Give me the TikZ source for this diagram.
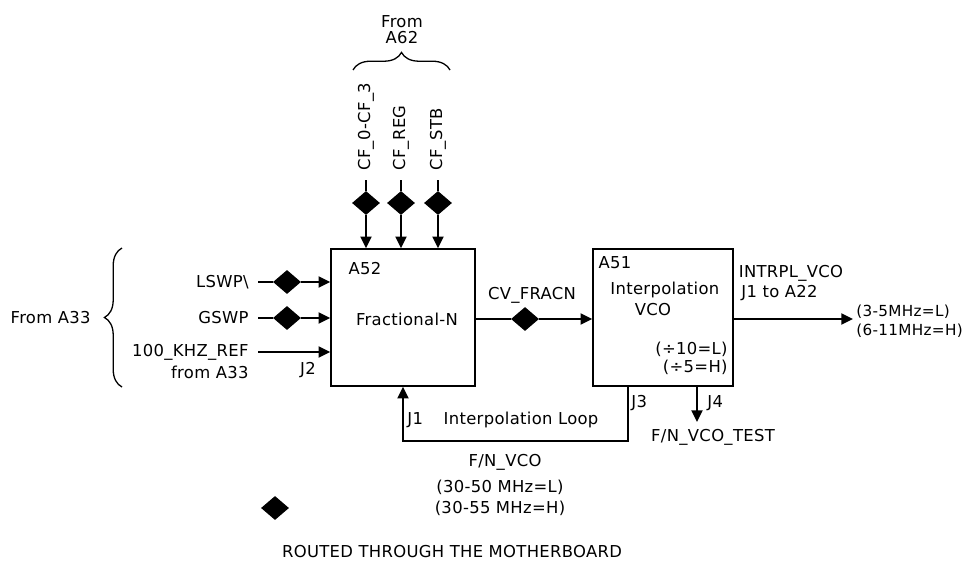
\documentclass[tikz,border=0pt]{standalone}
\usepackage{fontspec}
\setmainfont[LetterSpace=2]{DejaVu Sans}
\usetikzlibrary{arrows.meta,shapes.geometric,decorations.pathreplacing,positioning}

\tikzset{
  sig/.style={line width=1.5pt, -{Triangle[length=10pt,width=9.5pt]}},
  blk/.style={draw, line width=1.3pt, minimum height=4.11cm},
  bus/.style={diamond, fill=black, inner sep=0pt, minimum width=0.84cm, minimum height=0.72cm},
  grp/.style={line width=1.1pt, decorate, decoration={brace, amplitude=15pt}},
}

\begin{document}
\begin{tikzpicture}[x=0.03cm, y=-0.03cm, font=\fontsize{14}{16}\selectfont, inner sep=1pt]
    \useasboundingbox (0,0) rectangle (963,561);

    % blocks
    \node[blk, minimum width=4.32cm] (frac) at (403,317.5) {};
    \node[blk, minimum width=4.2cm] (vco) at (663,317.5) {};
    \node (a52) at (365,269) {A52};
    \node (fracn) at (407,319) {Fractional-N};
    \node (a51) at (615,263) {A51};
    \node[anchor=west] (interp) at (609,290) {Interpolation};
    \node (vcolbl) at (653,310) {VCO};
    \node[anchor=east] (div10) at (729,349) {(÷10=L)};
    \node[anchor=east] (div5) at (729,367) {(÷5=H)};

    % inputs from A33
    \node[anchor=east] (lswp) at (250,282) {LSWP\textbackslash};
    \node[anchor=east] (gswp) at (250,318) {GSWP};
    \node[anchor=east] (ref) at (250,352) {100\_KHZ\_REF};
    \node[anchor=east] (refsrc) at (250,372) {from A33};
    \coordinate (lswpS) at (258,282);
    \coordinate (gswpS) at (258,318);
    \coordinate (refS) at (258,352);
    \node[bus] (lswpD) at (287,282) {};
    \node[bus] (gswpD) at (287,318) {};
    \draw[sig] (lswpS) -- (lswpD) -- (lswpD -| frac.west);
    \draw[sig] (gswpS) -- (gswpD) -- (gswpD -| frac.west);
    \draw[sig] (refS) -- (refS -| frac.west);
    \node (j2) at (308,370) {J2};
    \draw[grp] (122,387) -- (122,248);
    \node[anchor=east] (a33) at (92,318) {From A33};

    % control lines from A62
    \foreach \nm/\x/\txt in {cf0/366/CF\_0-CF\_3, cfreg/401/CF\_REG, cfstb/438/CF\_STB}{
        \node[rotate=90, anchor=west] (\nm) at (\x,172) {\txt};
        \coordinate (\nm S) at (\x,180);
        \node[bus] (\nm D) at (\x,203) {};
        \draw[sig] (\nm S) -- (\nm D) -- (\nm D |- frac.north);
    }
    \draw[grp] (353,70) -- (450,70);
    \node (from) at (402,22) {From};
    \node (a62) at (402,38) {A62};

    % frac-n to vco
    \node[bus] (cvD) at (525,319) {};
    \draw[sig] (frac.east |- cvD) -- (cvD) -- (cvD -| vco.west);
    \node (cv) at (532,295) {CV\_FRACN};

    % output
    \coordinate (outE) at (853,319);
    \draw[sig] (vco.east |- outE) -- (outE);
    \node (intrpl) at (791,273) {INTRPL\_VCO};
    \node[anchor=west] (j1a22) at (740,293) {J1 to A22};
    \node[anchor=west, font=\fontsize{13}{15}\selectfont] (outL) at (855,312) {(3-5MHz=L)};
    \node[anchor=west, font=\fontsize{13}{15}\selectfont] (outH) at (855,331) {(6-11MHz=H)};

    % interpolation loop
    \coordinate (loopR) at (628,441);
    \coordinate (loopL) at (403,441);
    \draw[sig] (vco.south -| loopR) -- (loopR) -- (loopL) -- (loopL |- frac.south);
    \node[anchor=west] (j1) at (406,420) {J1};
    \node (loop) at (521,420) {Interpolation Loop};
    \node[anchor=west] (j3) at (630,403) {J3};
    \node (fnvco) at (505,462) {F/N\_VCO};
    \node (fnL) at (500,487) {(30-50 MHz=L)};
    \node (fnH) at (500,508) {(30-55 MHz=H)};

    % test output
    \coordinate (testE) at (697,422);
    \draw[sig] (vco.south -| testE) -- (testE);
    \node[anchor=west] (j4) at (706,403) {J4};
    \node (test) at (713,437) {F/N\_VCO\_TEST};

    % legend
    \node[bus] (key) at (275,508) {};
    \node (keytxt) at (452,552) {ROUTED THROUGH THE MOTHERBOARD};
\end{tikzpicture}
\end{document}
